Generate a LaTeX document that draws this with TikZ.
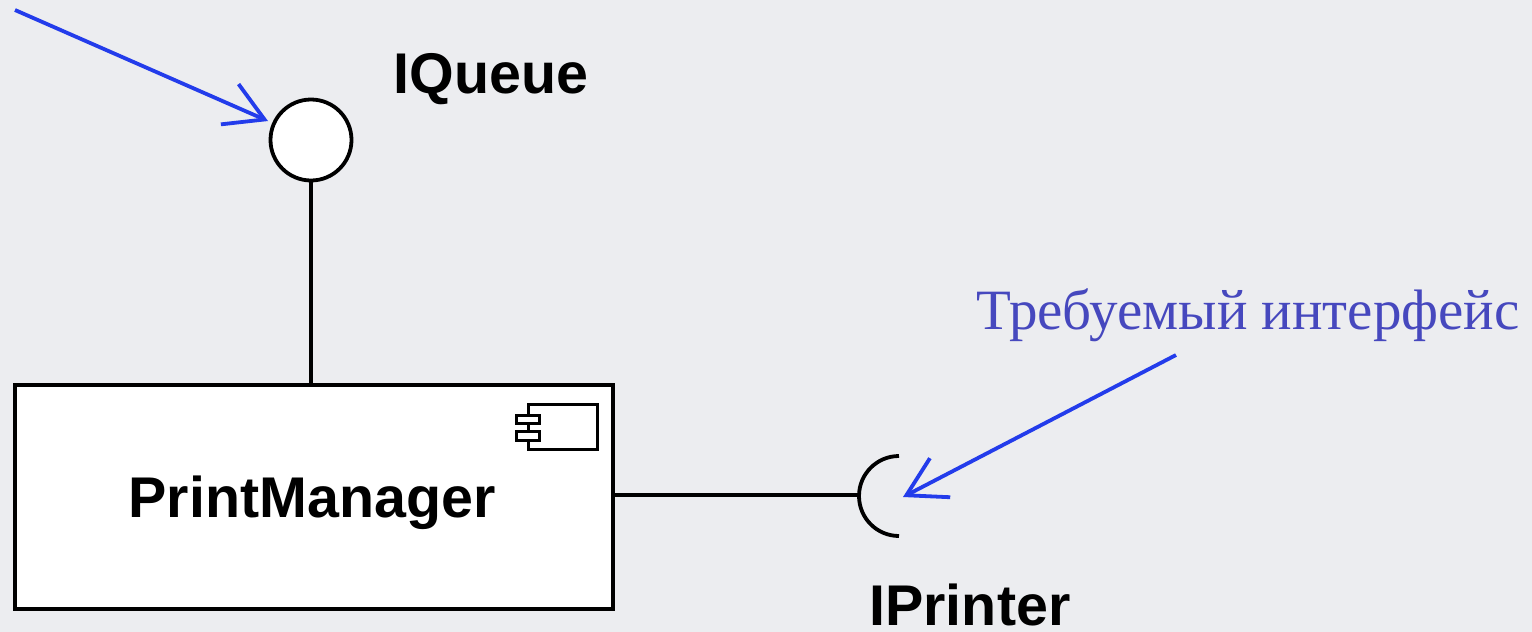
\documentclass[tikz,border=0pt]{standalone}
\usepackage{fontspec}
\setmainfont{Liberation Serif}
\newfontfamily\labelfont{Liberation Sans}
\usetikzlibrary{arrows.meta}
\definecolor{bgcol}{RGB}{236,237,240}
\definecolor{arrowblue}{RGB}{35,60,235}
\definecolor{textblue}{RGB}{70,72,190}
\tikzset{
  umlline/.style={draw=black, line width=1.9pt},
  pointer/.style={draw=arrowblue, line width=1.9pt, -{Straight Barb[length=19pt,width=22pt,line width=1.9pt]}},
  umllabel/.style={inner sep=0pt, font=\labelfont\bfseries\fontsize{28.7}{34}\selectfont},
  note/.style={inner sep=0pt, text=textblue, font=\fontsize{28.5}{33}\selectfont},
}
\begin{document}
\begin{tikzpicture}[x=0.5pt,y=-0.5pt]
\fill[bgcol] (0,0) rectangle (1532,632);
\useasboundingbox (0,0) rectangle (1532,632);
% component box
\node[umlline, fill=white, minimum width=299pt, minimum height=112pt, inner sep=0pt, anchor=north west] (pm) at (13,383) {};
\node[umllabel, anchor=base] (pmlabel) at (312,517) {PrintManager};
% component icon
\draw[umlline, line width=1.5pt, fill=white] (528,404) rectangle (597,449);
\draw[umlline, line width=1.5pt, fill=white] (516,415) rectangle (539,423);
\draw[umlline, line width=1.5pt, fill=white] (516,431) rectangle (539,440);
% provided interface
\node[umlline, circle, fill=white, minimum size=40.5pt, inner sep=0pt] (iq) at (311,140) {};
\coordinate (pmtop) at (311,383);
\draw[umlline] (iq.south) -- (pmtop);
\node[umllabel, anchor=base west] (iqlabel) at (393,93) {IQueue};
% required interface
\coordinate (pmright) at (611,495);
\coordinate (sock) at (857,495);
\draw[umlline] (pmright) -- (sock);
\draw[umlline] (899,456) arc[start angle=90, end angle=270, radius=20pt];
\node[umllabel, anchor=base west] (iplabel) at (869,625) {IPrinter};
% notes
\coordinate (a1s) at (15,10);
\coordinate (a1e) at (268,121);
\draw[pointer] (a1s) -- (a1e);
\node[note, anchor=base west] (req) at (976,329) {Требуемый интерфейс};
\coordinate (a2s) at (1176,355);
\coordinate (a2e) at (903,497);
\draw[pointer] (a2s) -- (a2e);
\end{tikzpicture}
\end{document}
